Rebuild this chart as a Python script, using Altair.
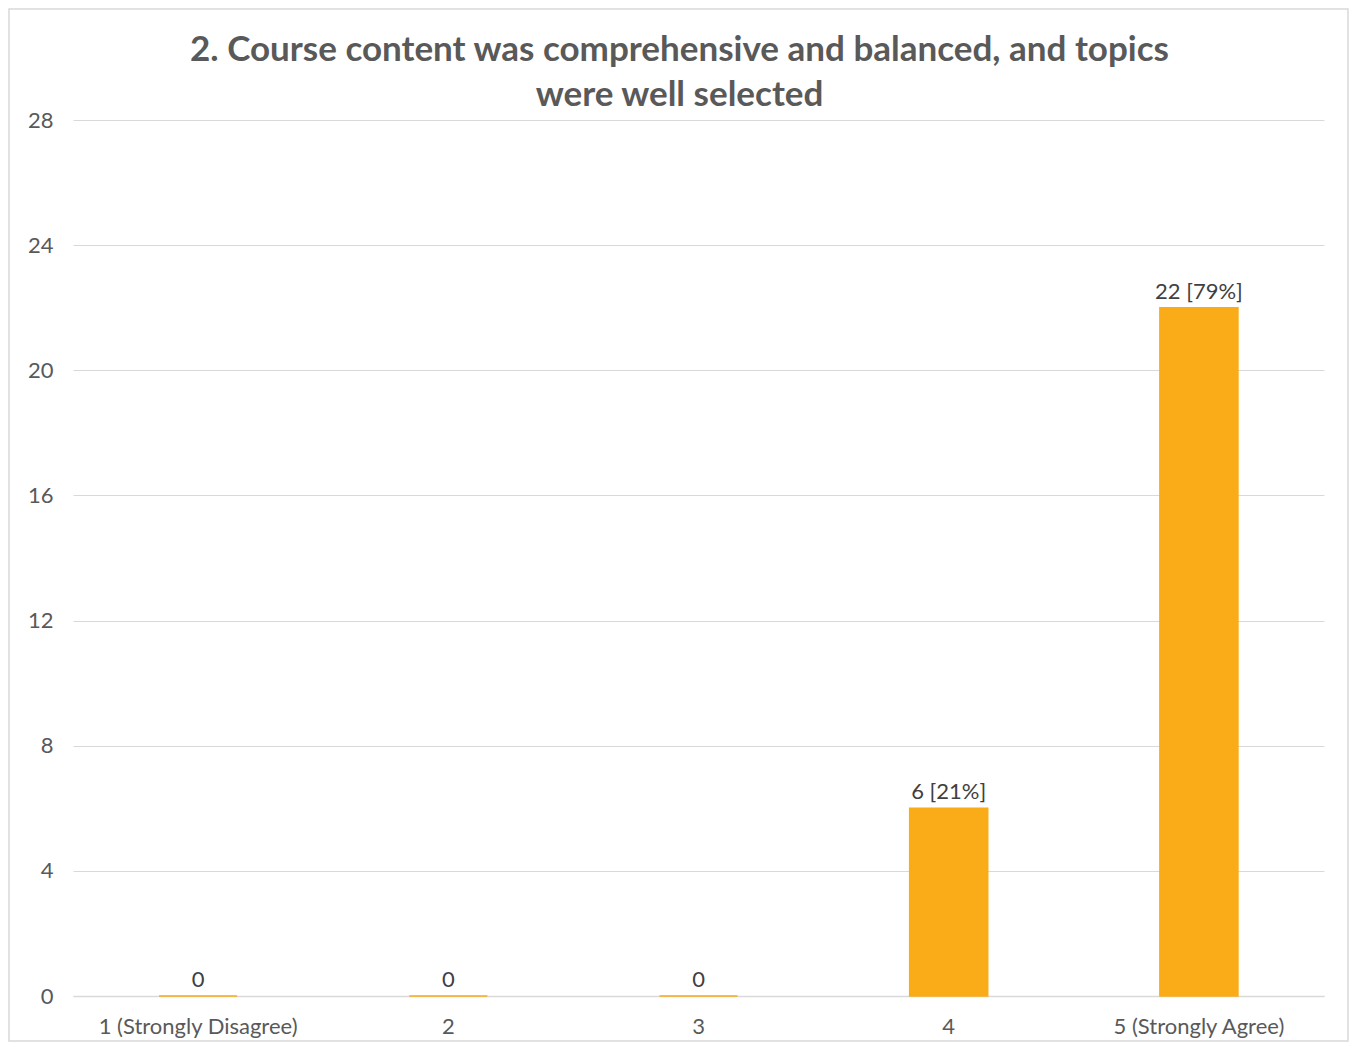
import altair as alt
import pandas as pd

categories = ["1 (Strongly Disagree)", "2", "3", "4", "5 (Strongly Agree)"]
counts = [0, 0, 0, 6, 22]
labels = ["0", "0", "0", "6 [21%]", "22 [79%]"]
y_ticks = [0, 4, 8, 12, 16, 20, 24, 28]

df = pd.DataFrame({"cat": categories, "count": counts, "label": labels})

FONT = "Lato"
GREY = "#595959"
BAR = "#FAAC18"

x_enc = alt.X(
    "cat:N",
    sort=categories,
    title=None,
    scale=alt.Scale(paddingInner=0.688, paddingOuter=0.344),
    axis=alt.Axis(labelAngle=0, labelFont=FONT, labelFontSize=22, labelColor=GREY,
                  labelPadding=20, labelLimit=0, ticks=False, domain=True, domainColor="#d9d9d9",
                  domainWidth=1.5, grid=False, labelBaseline="top"),
)
y_enc = alt.Y(
    "count:Q",
    title=None,
    scale=alt.Scale(domain=[0, 28], nice=False),
    axis=alt.Axis(values=y_ticks, labelFont=FONT, labelFontSize=22, labelColor=GREY,
                  labelPadding=20, ticks=False, domain=False, grid=True,
                  gridColor="#d9d9d9", gridWidth=1.2),
)

bars = alt.Chart(df).mark_bar(color=BAR, stroke=BAR, strokeWidth=1.5).encode(x=x_enc, y=y_enc)

text = alt.Chart(df).mark_text(font=FONT, fontSize=22, color="#404040", baseline="bottom", dy=-4).encode(
    x=alt.X("cat:N", sort=categories), y="count:Q", text="label:N"
)

frame = alt.Chart(pd.DataFrame({"f": [1]})).mark_rect(fill=None, stroke="#d9d9d9", strokeWidth=1.5).encode(
    x=alt.value(-64), x2=alt.value(1251 + 24), y=alt.value(-111), y2=alt.value(876 + 45)
)

chart = alt.layer(frame, bars, text).properties(
    width=1251,
    height=876,
    background="white",
    padding={"left": 65, "top": 112, "right": 25, "bottom": 46},
    autosize=alt.AutoSizeParams(type="none"),
    title=alt.TitleParams(
        ["2. Course content was comprehensive and balanced, and topics", "were well selected"],
        font=FONT, fontSize=35, fontWeight="bold", color=GREY, anchor="middle",
        dx=-19, offset=-105, lineHeight=45,
    ),
).configure_view(stroke="transparent", strokeWidth=0)

chart.save("out.html", embed_options={"renderer": "svg", "actions": False})
